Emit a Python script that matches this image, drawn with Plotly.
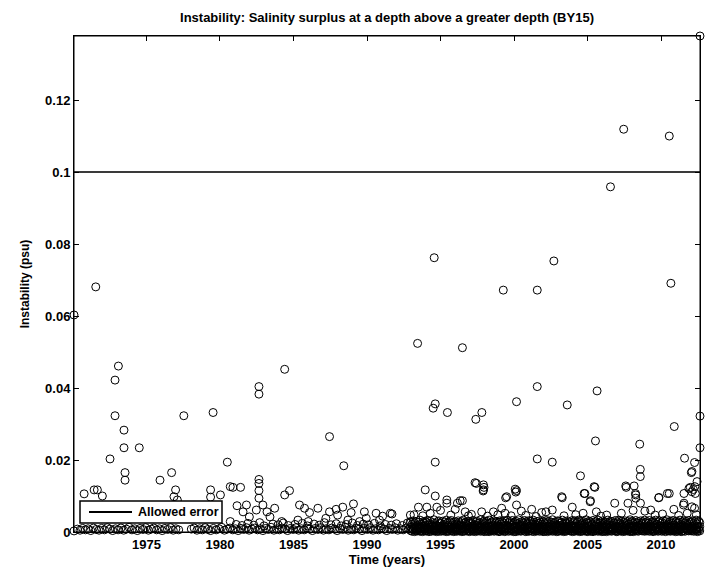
import plotly.graph_objects as go

# ---------------- text ----------------
title_text = "Instability: Salinity surplus at a depth above a greater depth (BY15)"
x_label = "Time (years)"
y_label = "Instability (psu)"
legend_label = "Allowed error"

# ---------------- axes ----------------
allowed_error = 0.1
time_range = [1970.07, 2012.65]
inst_range = [0.0, 0.1378]
x_ticks = [1975, 1980, 1985, 1990, 1995, 2000, 2005, 2010]
x_tick_labels = ["1975", "1980", "1985", "1990", "1995", "2000", "2005", "2010"]
y_ticks = [0, 0.02, 0.04, 0.06, 0.08, 0.1, 0.12]
y_tick_labels = ["0", "0.02", "0.04", "0.06", "0.08", "0.1", "0.12"]

# ---------------- data: clearly separated points ----------------
t_sparse = [1970.07, 1971.55, 1973.09, 1972.86, 1972.86, 1973.47, 1973.47, 1972.52, 1974.51,
            1973.54, 1973.54, 1975.92, 1976.71, 1977.54, 1979.53, 1980.50, 1980.88, 1981.40,
            1982.65, 1982.65, 1984.40, 1987.45, 1988.42, 1993.44, 1996.49, 1994.64, 1994.50,
            1995.47, 1994.64, 1994.57, 2007.46, 2010.56, 2006.56, 2002.71, 2012.65, 2010.67,
            1999.27, 2001.58, 2001.58, 2005.65, 2000.17, 2003.62, 1997.40, 1997.81, 2012.65,
            2010.90, 2005.54, 2008.55, 2012.65, 2001.58, 2002.60, 2011.60, 2012.28, 2012.06,
            2008.59, 2008.59, 2004.52, 1997.44, 1997.96, 1997.90, 2000.17, 2000.12, 1999.43,
            2005.50, 2004.82, 2005.20, 2003.28, 2007.63, 2008.26, 2009.84, 2010.56, 2011.99,
            2012.33, 2011.53, 2012.28, 1996.49]
v_sparse = [0.0603, 0.0681, 0.0461, 0.0422, 0.0323, 0.0283, 0.0234, 0.0203, 0.0234,
            0.0165, 0.0144, 0.0144, 0.0165, 0.0323, 0.0332, 0.0194, 0.0124, 0.0124,
            0.0404, 0.0383, 0.0452, 0.0265, 0.0184, 0.0524, 0.0512, 0.0356, 0.0344,
            0.0332, 0.0194, 0.0762, 0.1119, 0.1100, 0.0959, 0.0753, 0.1378, 0.0691,
            0.0672, 0.0672, 0.0404, 0.0392, 0.0362, 0.0353, 0.0313, 0.0332, 0.0322,
            0.0293, 0.0253, 0.0244, 0.0234, 0.0203, 0.0194, 0.0205, 0.0193, 0.0165,
            0.0174, 0.0154, 0.0156, 0.0135, 0.0124, 0.0114, 0.0115, 0.0111, 0.0095,
            0.0124, 0.0107, 0.0087, 0.0095, 0.0124, 0.0107, 0.0095, 0.0107, 0.0124,
            0.0107, 0.0075, 0.0066, 0.0087]

# ---------------- data: mid-level points (0.003 - 0.017) ----------------
t_mid = [1970.76, 1971.44, 1971.66, 1972.00, 1976.98, 1976.87, 1977.10, 1979.36, 1979.36,
         1980.03, 1980.70, 1980.70, 1981.16, 1981.80, 1982.47, 1982.92, 1983.20, 1983.72,
         1982.65, 1982.65, 1982.65, 1982.65, 1984.40, 1984.73, 1985.41, 1985.75, 1986.09,
         1986.66, 1987.45, 1987.90, 1988.35, 1989.08, 1988.92, 1989.82, 1990.62, 1991.06,
         1981.57, 1982.00, 1983.40, 1984.20, 1985.30, 1986.00, 1987.20, 1988.00, 1988.70,
         1989.50, 1989.95, 1990.85, 1991.59, 1991.70, 1992.95, 1992.95,
         1993.50, 1994.07, 1994.75, 1993.96, 1994.64, 1995.43, 1995.43, 1996.34, 1996.15,
         1997.35, 1997.92, 1997.92, 2000.08, 1999.50, 2000.17, 1996.68, 1997.80, 1998.60,
         1999.16, 1999.39, 2001.20, 2001.88, 1993.20, 1993.80, 1994.30, 1995.00, 1995.70,
         1996.00, 1996.90, 1997.10, 1998.20, 1998.90, 1999.80, 2000.50, 2000.80, 2001.50,
         2002.17, 2002.60, 2003.96, 2003.40, 2004.20, 2004.70, 2005.60, 2005.90, 2006.30,
         2006.85, 2007.30, 2007.75, 2008.10, 2008.60, 2008.90, 2009.30, 2009.60, 2010.10,
         2010.87, 2011.20, 2011.56, 2011.78, 2012.10, 2012.40, 2003.24, 2005.45, 2004.77,
         2005.18, 2007.60, 2008.17, 2008.28, 2008.28, 2009.86, 2010.43, 2011.56, 2011.90,
         2012.10, 2012.30, 2012.10, 2012.45, 2012.20]
v_mid = [0.0106, 0.0117, 0.0117, 0.0100, 0.0117, 0.0098, 0.0089, 0.0117, 0.0097,
         0.0103, 0.0126, 0.0029, 0.0073, 0.0075, 0.0061, 0.0075, 0.0056, 0.0066,
         0.0146, 0.0135, 0.0115, 0.0094, 0.0103, 0.0115, 0.0075, 0.0066, 0.0054,
         0.0066, 0.0056, 0.0063, 0.0069, 0.0078, 0.0054, 0.0056, 0.0052, 0.0044,
         0.0056, 0.0042, 0.0042, 0.0029, 0.0033, 0.0029, 0.0038, 0.0047, 0.0033,
         0.0029, 0.0038, 0.0033, 0.0052, 0.0050, 0.0047, 0.0029,
         0.0069, 0.0069, 0.0069, 0.0117, 0.0100, 0.0089, 0.0080, 0.0087, 0.0080,
         0.0137, 0.0131, 0.0117, 0.0119, 0.0098, 0.0075, 0.0056, 0.0056, 0.0056,
         0.0066, 0.0052, 0.0063, 0.0054, 0.0048, 0.0045, 0.0052, 0.0060, 0.0047,
         0.0063, 0.0045, 0.0049, 0.0044, 0.0048, 0.0045, 0.0058, 0.0046, 0.0043,
         0.0056, 0.0061, 0.0069, 0.0045, 0.0048, 0.0052, 0.0056, 0.0044, 0.0047,
         0.0080, 0.0052, 0.0080, 0.0060, 0.0080, 0.0058, 0.0061, 0.0047, 0.0050,
         0.0063, 0.0046, 0.0080, 0.0052, 0.0070, 0.0048, 0.0098, 0.0126, 0.0107,
         0.0084, 0.0128, 0.0128, 0.0103, 0.0094, 0.0096, 0.0107, 0.0107, 0.0121,
         0.0112, 0.0126, 0.0168, 0.0140, 0.0118]

# ---------------- data: near-zero row before 1993 ----------------
t_floor = [1970.07, 1970.30, 1970.48, 1970.66, 1970.85, 1971.02, 1971.21, 1971.39, 1971.58, 1971.77,
           1971.95, 1972.14, 1972.33, 1972.51, 1972.70, 1972.89, 1973.07, 1973.26, 1973.45, 1973.63,
           1973.82, 1974.01, 1974.20, 1974.38, 1974.57, 1974.76, 1974.94, 1975.13, 1975.32, 1975.50,
           1975.69, 1975.88, 1976.07, 1976.25, 1976.44, 1976.63, 1976.82, 1977.00, 1977.19, 1978.05,
           1978.24, 1978.43, 1978.61, 1978.80, 1978.99, 1979.18, 1979.36, 1979.55, 1979.74, 1979.93,
           1980.11, 1980.30, 1980.49, 1980.68, 1980.87, 1981.05, 1981.24, 1981.42, 1981.61, 1981.80,
           1981.98, 1982.17, 1982.36, 1982.55, 1982.73, 1982.92, 1983.11, 1983.29, 1983.48, 1983.67,
           1983.86, 1984.04, 1984.23, 1984.42, 1984.60, 1984.79, 1984.98, 1985.17, 1985.35, 1985.54,
           1985.73, 1985.91, 1986.10, 1986.29, 1986.48, 1986.66, 1986.85, 1987.04, 1987.22, 1987.41,
           1987.60, 1987.79, 1987.97, 1988.16, 1988.35, 1988.53, 1988.72, 1988.91, 1989.10, 1989.28,
           1989.47, 1989.66, 1989.84, 1990.03, 1990.22, 1990.41, 1990.59, 1990.78, 1990.97, 1991.15,
           1991.34, 1991.53, 1991.72, 1991.90, 1992.09, 1992.28, 1992.46, 1992.65, 1992.84,
           1981.10, 1981.50, 1981.90, 1982.30, 1982.70, 1983.00, 1983.60, 1983.95, 1984.30, 1984.65,
           1985.10, 1985.60, 1985.95, 1986.40, 1986.75, 1987.10, 1987.55, 1987.90, 1988.25, 1988.60,
           1989.00, 1989.35, 1989.75, 1990.10, 1990.50, 1990.90, 1991.25, 1991.65, 1992.00, 1992.40,
           1992.75]
v_floor = [0.0003, 0.0008, 0.0005, 0.0010, 0.0006, 0.0009, 0.0004, 0.0011, 0.0007, 0.0005,
           0.0010, 0.0006, 0.0012, 0.0008, 0.0004, 0.0009, 0.0006, 0.0011, 0.0005, 0.0008,
           0.0013, 0.0006, 0.0009, 0.0004, 0.0010, 0.0007, 0.0012, 0.0005, 0.0008, 0.0011,
           0.0006, 0.0009, 0.0004, 0.0010, 0.0007, 0.0012, 0.0005, 0.0009, 0.0006, 0.0008,
           0.0011, 0.0005, 0.0009, 0.0006, 0.0012, 0.0007, 0.0004, 0.0010, 0.0006, 0.0009,
           0.0013, 0.0005, 0.0008, 0.0011, 0.0006, 0.0009, 0.0004, 0.0010, 0.0007, 0.0012,
           0.0005, 0.0008, 0.0011, 0.0006, 0.0009, 0.0004, 0.0010, 0.0007, 0.0013, 0.0005,
           0.0009, 0.0006, 0.0011, 0.0008, 0.0004, 0.0010, 0.0007, 0.0012, 0.0005, 0.0009,
           0.0006, 0.0011, 0.0008, 0.0004, 0.0010, 0.0007, 0.0012, 0.0005, 0.0009, 0.0006,
           0.0011, 0.0008, 0.0004, 0.0010, 0.0007, 0.0013, 0.0005, 0.0009, 0.0006, 0.0011,
           0.0008, 0.0004, 0.0010, 0.0007, 0.0012, 0.0005, 0.0009, 0.0006, 0.0011, 0.0008,
           0.0004, 0.0010, 0.0007, 0.0012, 0.0005, 0.0009, 0.0006, 0.0011, 0.0008,
           0.0021, 0.0018, 0.0024, 0.0019, 0.0026, 0.0017, 0.0022, 0.0020, 0.0025, 0.0018,
           0.0021, 0.0024, 0.0017, 0.0022, 0.0019, 0.0026, 0.0020, 0.0023, 0.0017, 0.0021,
           0.0025, 0.0018, 0.0022, 0.0020, 0.0024, 0.0017, 0.0021, 0.0019, 0.0023, 0.0018,
           0.0025]

# ---------------- data: dense profiles 1993-2012 (values per profile time) ----------------
t_band = [
    1992.97, 1993.06, 1993.15, 1993.24, 1993.33, 1993.42, 1993.51, 1993.60, 1993.69, 1993.78, 1993.87, 1993.95,
    1994.04, 1994.12, 1994.21, 1994.29, 1994.38, 1994.46, 1994.55, 1994.63, 1994.72, 1994.81, 1994.89, 1994.97,
    1995.05, 1995.13, 1995.22, 1995.30, 1995.39, 1995.47, 1995.56, 1995.64, 1995.73, 1995.82, 1995.90, 1995.98,
    1996.03, 1996.11, 1996.20, 1996.28, 1996.37, 1996.45, 1996.54, 1996.62, 1996.71, 1996.79, 1996.88, 1996.96,
    1997.04, 1997.13, 1997.21, 1997.30, 1997.38, 1997.47, 1997.55, 1997.64, 1997.72, 1997.81, 1997.89, 1997.97,
    1998.05, 1998.14, 1998.22, 1998.31, 1998.39, 1998.48, 1998.56, 1998.65, 1998.73, 1998.82, 1998.90, 1998.98,
    1999.03, 1999.12, 1999.20, 1999.29, 1999.37, 1999.46, 1999.54, 1999.63, 1999.71, 1999.80, 1999.88, 1999.97,
    2000.04, 2000.12, 2000.21, 2000.29, 2000.38, 2000.46, 2000.55, 2000.63, 2000.72, 2000.80, 2000.89, 2000.97,
    2001.05, 2001.13, 2001.22, 2001.30, 2001.39, 2001.47, 2001.56, 2001.64, 2001.73, 2001.81, 2001.90, 2001.98,
    2002.03, 2002.11, 2002.20, 2002.28, 2002.37, 2002.45, 2002.54, 2002.62, 2002.71, 2002.79, 2002.88, 2002.96,
    2003.04, 2003.12, 2003.21, 2003.29, 2003.38, 2003.46, 2003.55, 2003.63, 2003.72, 2003.80, 2003.89, 2003.97,
    2004.05, 2004.13, 2004.22, 2004.30, 2004.39, 2004.47, 2004.56, 2004.64, 2004.73, 2004.81, 2004.90, 2004.98,
    2005.03, 2005.12, 2005.20, 2005.29, 2005.37, 2005.46, 2005.54, 2005.63, 2005.71, 2005.80, 2005.88, 2005.97,
    2006.04, 2006.12, 2006.21, 2006.29, 2006.38, 2006.46, 2006.55, 2006.63, 2006.72, 2006.80, 2006.89, 2006.97,
    2007.05, 2007.13, 2007.22, 2007.30, 2007.39, 2007.47, 2007.56, 2007.64, 2007.73, 2007.81, 2007.90, 2007.98,
    2008.03, 2008.11, 2008.20, 2008.28, 2008.37, 2008.45, 2008.54, 2008.62, 2008.71, 2008.79, 2008.88, 2008.96,
    2009.04, 2009.12, 2009.21, 2009.29, 2009.38, 2009.46, 2009.55, 2009.63, 2009.72, 2009.80, 2009.89, 2009.97,
    2010.05, 2010.13, 2010.22, 2010.30, 2010.39, 2010.47, 2010.56, 2010.64, 2010.73, 2010.81, 2010.90, 2010.98,
    2011.03, 2011.12, 2011.20, 2011.29, 2011.37, 2011.46, 2011.54, 2011.63, 2011.71, 2011.80, 2011.88, 2011.97,
    2012.05, 2012.13, 2012.22, 2012.30, 2012.39, 2012.47, 2012.56, 2012.63,
]
v_band = [
    [.0004, .0013, .0026], [.0002, .0009, .0021], [.0006, .0017, .0031], [.0001, .0011, .0024],
    [.0005, .0015, .0029], [.0003, .0008, .0019], [.0007, .0014, .0027], [.0002, .0012, .0033],
    [.0004, .0010, .0022], [.0001, .0016, .0028], [.0006, .0013, .0025], [.0003, .0009, .0030],
    [.0003, .0012, .0027], [.0007, .0018, .0032], [.0001, .0010, .0023], [.0005, .0014, .0030],
    [.0002, .0008, .0020], [.0006, .0016, .0026], [.0003, .0011, .0034], [.0004, .0013, .0024],
    [.0001, .0009, .0018], [.0005, .0017, .0029], [.0002, .0012, .0031], [.0007, .0015, .0025],
    [.0002, .0011, .0024], [.0005, .0016, .0030], [.0003, .0009, .0021], [.0006, .0014, .0028],
    [.0001, .0012, .0033], [.0004, .0017, .0025], [.0002, .0008, .0019], [.0007, .0013, .0029],
    [.0003, .0015, .0032], [.0005, .0010, .0023], [.0001, .0014, .0027], [.0006, .0011, .0020],
    [.0004, .0015, .0028], [.0002, .0010, .0022], [.0006, .0013, .0031], [.0003, .0018, .0026],
    [.0005, .0009, .0020], [.0001, .0012, .0029], [.0004, .0016, .0033], [.0002, .0011, .0024],
    [.0007, .0014, .0027], [.0003, .0008, .0021], [.0005, .0017, .0030], [.0001, .0010, .0025],
    [.0003, .0014, .0029], [.0006, .0011, .0023], [.0002, .0016, .0032], [.0004, .0009, .0019],
    [.0001, .0013, .0027], [.0005, .0018, .0030], [.0003, .0010, .0024], [.0007, .0015, .0026],
    [.0002, .0012, .0034], [.0004, .0017, .0022], [.0006, .0008, .0028], [.0001, .0014, .0031],
    [.0005, .0012, .0026], [.0002, .0017, .0030], [.0004, .0009, .0021], [.0001, .0014, .0033],
    [.0006, .0011, .0024], [.0003, .0016, .0028], [.0005, .0008, .0020], [.0002, .0013, .0031],
    [.0007, .0015, .0025], [.0003, .0010, .0029], [.0004, .0018, .0023], [.0001, .0012, .0027],
    [.0002, .0015, .0031], [.0006, .0010, .0022], [.0003, .0013, .0028], [.0005, .0017, .0025],
    [.0001, .0009, .0030], [.0004, .0012, .0019], [.0007, .0016, .0033], [.0002, .0011, .0026],
    [.0005, .0014, .0029], [.0003, .0008, .0021], [.0006, .0018, .0032], [.0001, .0013, .0024],
    [.0004, .0011, .0027], [.0001, .0016, .0030], [.0006, .0013, .0023], [.0003, .0009, .0034],
    [.0005, .0017, .0026], [.0002, .0012, .0020], [.0004, .0015, .0029], [.0007, .0010, .0024],
    [.0003, .0014, .0032], [.0001, .0018, .0028], [.0006, .0011, .0022], [.0002, .0013, .0031],
    [.0003, .0016, .0025], [.0005, .0010, .0030], [.0002, .0013, .0022], [.0006, .0018, .0033],
    [.0001, .0011, .0027], [.0004, .0014, .0019], [.0003, .0009, .0029], [.0005, .0017, .0024],
    [.0002, .0012, .0031], [.0007, .0015, .0026], [.0004, .0010, .0021], [.0001, .0013, .0028],
    [.0006, .0012, .0029], [.0002, .0017, .0023], [.0004, .0010, .0032], [.0001, .0014, .0026],
    [.0005, .0016, .0030], [.0003, .0009, .0021], [.0007, .0013, .0027], [.0002, .0018, .0034],
    [.0004, .0011, .0024], [.0006, .0015, .0028], [.0001, .0012, .0020], [.0003, .0016, .0031],
    [.0002, .0013, .0030], [.0005, .0018, .0024], [.0003, .0010, .0027], [.0006, .0014, .0033],
    [.0001, .0011, .0022], [.0004, .0016, .0029], [.0002, .0009, .0025], [.0005, .0013, .0031],
    [.0007, .0017, .0023], [.0003, .0012, .0028], [.0004, .0015, .0020], [.0001, .0010, .0032],
    [.0004, .0017, .0026], [.0002, .0011, .0031], [.0006, .0014, .0023], [.0003, .0009, .0028],
    [.0005, .0016, .0033], [.0001, .0012, .0021], [.0004, .0018, .0030], [.0002, .0010, .0025],
    [.0007, .0013, .0029], [.0003, .0015, .0022], [.0005, .0011, .0034], [.0001, .0016, .0027],
    [.0003, .0010, .0024], [.0006, .0015, .0030], [.0002, .0012, .0027], [.0004, .0018, .0021],
    [.0001, .0009, .0032], [.0005, .0014, .0026], [.0003, .0017, .0029], [.0007, .0011, .0023],
    [.0002, .0013, .0033], [.0004, .0016, .0025], [.0006, .0010, .0028], [.0001, .0014, .0020],
    [.0005, .0013, .0031], [.0002, .0016, .0024], [.0004, .0010, .0028], [.0001, .0014, .0022],
    [.0006, .0018, .0033], [.0003, .0011, .0026], [.0005, .0015, .0030], [.0002, .0009, .0020],
    [.0004, .0012, .0029], [.0007, .0017, .0025], [.0003, .0013, .0032], [.0001, .0010, .0023],
    [.0002, .0014, .0028], [.0006, .0011, .0033], [.0003, .0017, .0024], [.0005, .0009, .0030],
    [.0001, .0013, .0021], [.0004, .0016, .0027], [.0002, .0012, .0031], [.0006, .0018, .0025],
    [.0003, .0010, .0029], [.0005, .0014, .0022], [.0001, .0011, .0034], [.0004, .0015, .0026],
    [.0004, .0012, .0030], [.0001, .0017, .0023], [.0006, .0014, .0027], [.0003, .0010, .0032],
    [.0005, .0016, .0025], [.0002, .0013, .0029], [.0004, .0018, .0021], [.0007, .0011, .0031],
    [.0003, .0015, .0024], [.0005, .0009, .0028], [.0002, .0014, .0033], [.0006, .0012, .0026],
    [.0003, .0015, .0029], [.0005, .0011, .0024], [.0002, .0016, .0032], [.0006, .0013, .0022],
    [.0004, .0009, .0027], [.0001, .0014, .0030], [.0005, .0018, .0025], [.0003, .0012, .0033],
    [.0006, .0010, .0021], [.0002, .0016, .0028], [.0004, .0013, .0031], [.0007, .0017, .0024],
    [.0002, .0011, .0026], [.0004, .0016, .0031], [.0006, .0013, .0023], [.0001, .0010, .0029],
    [.0005, .0017, .0034], [.0003, .0012, .0022], [.0004, .0015, .0027], [.0002, .0009, .0030],
    [.0006, .0014, .0025], [.0003, .0018, .0032], [.0005, .0011, .0020], [.0001, .0013, .0028],
    [.0005, .0014, .0030], [.0002, .0010, .0024], [.0004, .0017, .0028], [.0006, .0012, .0033],
    [.0001, .0015, .0021], [.0003, .0009, .0027], [.0005, .0016, .0031], [.0002, .0013, .0025],
    [.0007, .0011, .0029], [.0004, .0018, .0022], [.0003, .0014, .0032], [.0006, .0010, .0026],
    [.0003, .0016, .0027], [.0005, .0011, .0031], [.0002, .0013, .0024], [.0006, .0017, .0029],
    [.0004, .0010, .0033], [.0001, .0014, .0022], [.0005, .0012, .0030], [.0003, .0015, .0026],
]

# ---------------- assemble ----------------
all_t = list(t_sparse) + list(t_mid) + list(t_floor)
all_v = list(v_sparse) + list(v_mid) + list(v_floor)
for t, vals in zip(t_band, v_band):
    for v in vals:
        all_t.append(t)
        all_v.append(v)

font_family = "Liberation Sans, Arial, Helvetica, sans-serif"
W, H = 706, 568
ML, MR, MT, MB = 74, 6, 36, 36
PW, PH = W - ML - MR, H - MT - MB


def px_x(px):
    return (px - ML) / PW


def px_y(py):
    return (H - MB - py) / PH


fig = go.Figure()

fig.add_trace(go.Scatter(
    x=all_t, y=all_v, mode="markers", showlegend=False, cliponaxis=False,
    marker=dict(symbol="circle-open", size=8, color="black", line=dict(width=1, color="black")),
    hoverinfo="x+y",
))

fig.add_trace(go.Scatter(
    x=time_range, y=[allowed_error, allowed_error], mode="lines", name=legend_label,
    line=dict(color="#3a3a3a", width=2), showlegend=False,
))

axis_common = dict(
    showline=True, linecolor="black", linewidth=1, mirror="ticks",
    ticks="inside", ticklen=5, tickcolor="black", tickwidth=1,
    showgrid=False, zeroline=False,
    tickfont=dict(family=font_family, size=13, color="black", weight="bold"),
)

# legend box (drawn like MATLAB's boxed legend)
shapes = [
    dict(type="rect", xref="paper", yref="paper",
         x0=px_x(80), x1=px_x(222), y0=px_y(523), y1=px_y(501),
         fillcolor="white", line=dict(color="black", width=1.5), layer="above"),
    dict(type="line", xref="paper", yref="paper",
         x0=px_x(89), x1=px_x(132), y0=px_y(512), y1=px_y(512),
         line=dict(color="black", width=2), layer="above"),
    dict(type="rect", xref="paper", yref="paper", x0=0, x1=1, y0=0, y1=1,
         line=dict(color="black", width=1), layer="above"),
]
annotations = [
    dict(text=legend_label, xref="paper", yref="paper", x=px_x(136), y=px_y(512),
         xanchor="left", yanchor="middle", showarrow=False,
         font=dict(family=font_family, size=12.5, color="black", weight="bold")),
]

fig.update_layout(
    width=W, height=H,
    margin=dict(l=ML, r=MR, t=MT, b=MB),
    paper_bgcolor="white", plot_bgcolor="white",
    font=dict(family=font_family, color="black"),
    title=dict(text=title_text, xref="paper", x=0.5, xanchor="center", y=1 - 17 / H, yanchor="middle",
               font=dict(family=font_family, size=13, color="black", weight="bold")),
    xaxis=dict(range=time_range, tickvals=x_ticks, ticktext=x_tick_labels, automargin=False,
               title=dict(text=x_label, standoff=2,
                          font=dict(family=font_family, size=13, color="black", weight="bold")),
               **axis_common),
    yaxis=dict(range=inst_range, tickvals=y_ticks, ticktext=y_tick_labels, automargin=False,
               title=dict(text=y_label, standoff=12,
                          font=dict(family=font_family, size=12, color="black", weight="bold")),
               **axis_common),
    shapes=shapes,
    annotations=annotations,
    showlegend=False,
)

fig.write_html("out.html", config={"displayModeBar": False},
               post_script="document.body.style.margin='0';document.body.style.padding='0';")
